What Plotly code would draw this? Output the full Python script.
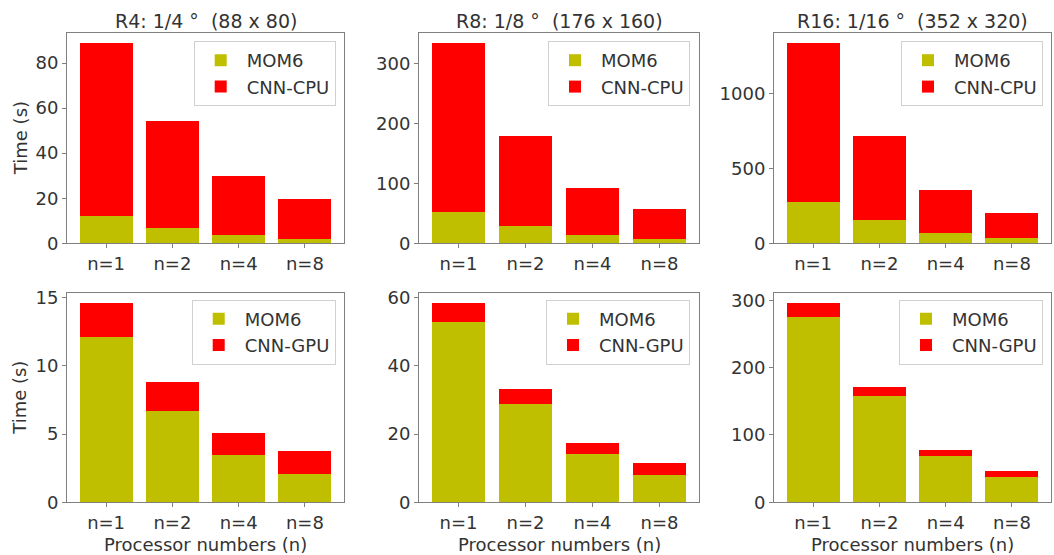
import plotly.graph_objects as go

# ---------------- data ----------------
procs = ["n=1", "n=2", "n=4", "n=8"]
titles = ["R4: 1/4\u00a0\u00b0\u00a0\u00a0(88 x 80)",
          "R8: 1/8\u00a0\u00b0\u00a0\u00a0(176 x 160)",
          "R16: 1/16\u00a0\u00b0\u00a0\u00a0(352 x 320)"]

mom6_r4 = [12.1, 6.7, 3.5, 2.1]
mom6_r8 = [52.8, 28.8, 14.2, 7.9]
mom6_r16 = [275.3, 158.3, 68.8, 37.8]

cnn_cpu_r4 = [76.8, 47.7, 26.4, 17.5]
cnn_cpu_r8 = [281.8, 150.7, 77.8, 49.0]
cnn_cpu_r16 = [1064.3, 562.4, 288.2, 163.2]

cnn_gpu_r4 = [2.5, 2.1, 1.6, 1.65]
cnn_gpu_r8 = [5.5, 4.3, 3.3, 3.7]
cnn_gpu_r16 = [20.2, 12.3, 9.4, 8.4]

# ---------------- style ----------------
W, H = 1054, 555
MOM6_COLOR = "#bfbf00"
CNN_COLOR = "#ff0000"
SPINE = "#808080"
TXT = "#333333"
FONT = "DejaVu Sans"
FS = 18

x_px = [(67, 344), (419, 699), (774, 1051)]
y_px = [(33, 243.3), (293.3, 502.3)]
legend_right_px = [335.7, 690, 1043]
legend_top_px = [41, 299.5]
dticks = [20, 100, 500, 5, 20, 100]

panels = [
    (mom6_r4, cnn_cpu_r4, "CNN-CPU"),
    (mom6_r8, cnn_cpu_r8, "CNN-CPU"),
    (mom6_r16, cnn_cpu_r16, "CNN-CPU"),
    (mom6_r4, cnn_gpu_r4, "CNN-GPU"),
    (mom6_r8, cnn_gpu_r8, "CNN-GPU"),
    (mom6_r16, cnn_gpu_r16, "CNN-GPU"),
]

fig = go.Figure()
layout = dict(
    width=W, height=H,
    margin=dict(l=0, r=0, t=0, b=0),
    paper_bgcolor="white", plot_bgcolor="white",
    barmode="stack", bargap=0.2,
    font=dict(family=FONT, size=FS, color=TXT),
    annotations=[],
)

for k, (mom, cnn, cnn_name) in enumerate(panels):
    i = k + 1
    row, col = divmod(k, 3)
    xs = "" if i == 1 else str(i)
    xa, ya = "x" + xs, "y" + xs
    leg = "legend" + xs
    fig.add_trace(go.Bar(x=procs, y=mom, name="MOM6", marker=dict(color=MOM6_COLOR, line=dict(width=0)),
                         xaxis=xa, yaxis=ya, legend=leg))
    fig.add_trace(go.Bar(x=procs, y=cnn, name=cnn_name, marker=dict(color=CNN_COLOR, line=dict(width=0)),
                         xaxis=xa, yaxis=ya, legend=leg))
    tot = max(m + c for m, c in zip(mom, cnn))
    x0, x1 = x_px[col]
    y0, y1 = y_px[row]
    layout["xaxis" + xs] = dict(
        domain=[x0 / W, x1 / W], anchor=ya, type="category", range=[-0.59, 3.59],
        showline=True, mirror=True, linecolor=SPINE, linewidth=1,
        ticks="outside", ticklen=4, tickcolor=SPINE, showgrid=False,
        tickfont=dict(size=FS, color=TXT, family=FONT), automargin=False,
    )
    layout["yaxis" + xs] = dict(
        domain=[(H - y1) / H, (H - y0) / H], anchor=xa, range=[0, tot * 1.05],
        tick0=0, dtick=dticks[k],
        showline=True, mirror=True, linecolor=SPINE, linewidth=1,
        ticks="outside", ticklen=4, tickcolor=SPINE, showgrid=False, zeroline=False,
        tickfont=dict(size=FS, color=TXT, family=FONT), automargin=False,
    )
    layout[leg] = dict(
        x=legend_right_px[col] / W, y=(H - legend_top_px[row]) / H,
        xanchor="right", yanchor="top", xref="paper", yref="paper",
        bgcolor="white", bordercolor="#d0d0d0", borderwidth=1,
        traceorder="normal", font=dict(size=FS, color=TXT, family=FONT),
        tracegroupgap=0, itemwidth=42,
    )
    if row == 0:
        layout["annotations"].append(dict(
            text=titles[col], xref="paper", yref="paper",
            x=(x0 + x1) / 2 / W, y=(H - 21) / H, xanchor="center", yanchor="middle",
            showarrow=False, font=dict(size=19, color=TXT, family=FONT)))
    else:
        layout["annotations"].append(dict(
            text="Processor numbers (n)", xref="paper", yref="paper",
            x=(x0 + x1) / 2 / W, y=(H - 544) / H, xanchor="center", yanchor="middle",
            showarrow=False, font=dict(size=FS, color=TXT, family=FONT)))
    if col == 0:
        layout["annotations"].append(dict(
            text="Time (s)", xref="paper", yref="paper", textangle=-90,
            x=20 / W, y=(H - (y0 + y1) / 2) / H, xanchor="center", yanchor="middle",
            showarrow=False, font=dict(size=FS, color=TXT, family=FONT)))

fig.update_layout(**layout)
fig.write_html("out.html", config={"displayModeBar": False},
               post_script="document.body.style.margin='0';document.body.style.overflow='hidden';")
